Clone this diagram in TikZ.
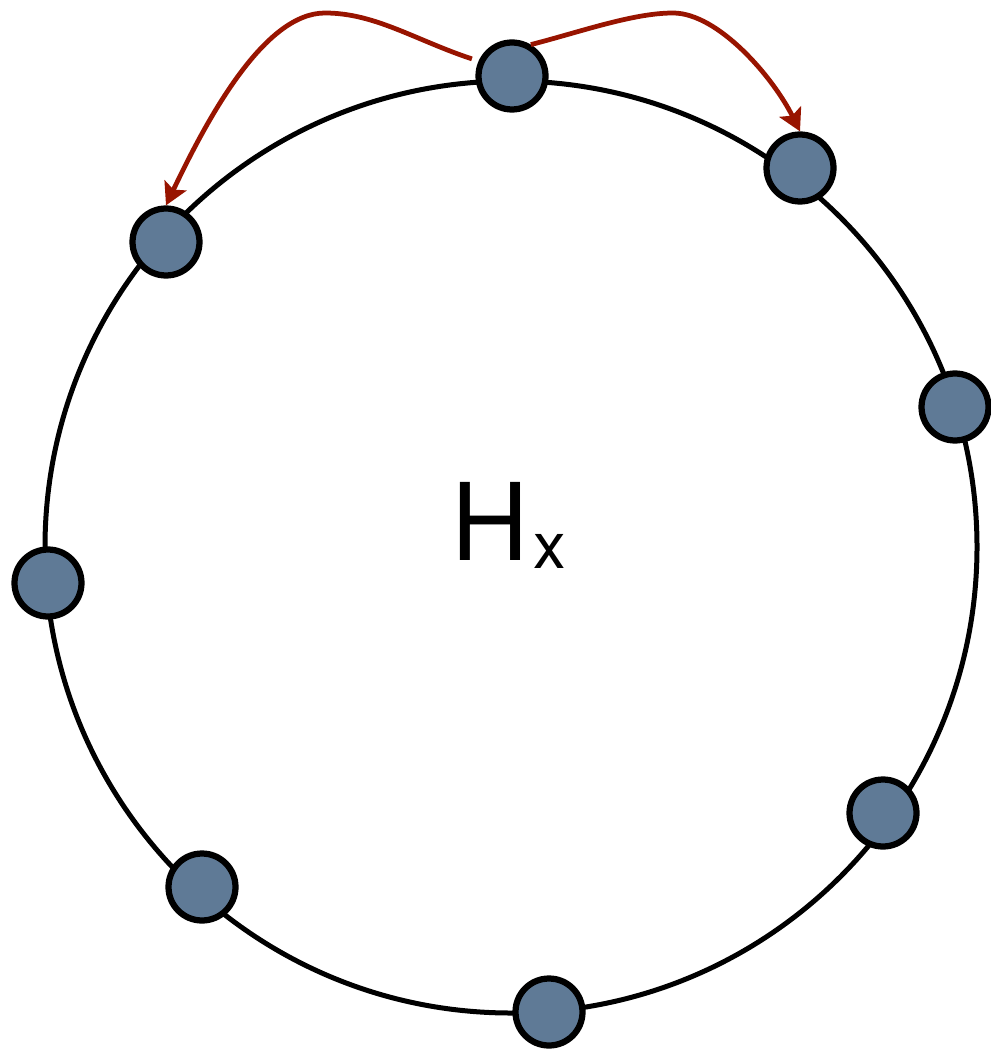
\documentclass[tikz,border=0pt]{standalone}
\usepackage{fontspec}
\usepackage{tikz}
\usetikzlibrary{arrows.meta, positioning}
\newfontfamily\hxfont{TeX Gyre Heros}
\definecolor{myBlue}{RGB}{95,122,150}
\definecolor{myRed}{RGB}{152,20,0}

\begin{document}
\begin{tikzpicture}[x=0.02cm, y=-0.02cm,
  site/.style={circle, draw=black, line width=0.125cm, fill=myBlue,
               minimum size=1.34cm, inner sep=0pt},
  hop/.style={draw=myRed, line width=0.095cm,
              -{Stealth[length=0.44cm, width=0.48cm, inset=0.09cm]}},
]
  \useasboundingbox (0,0) rectangle (990,1050);
  % the ring
  \draw[line width=0.1cm] (511,547) circle [radius=466];
  % sites on the ring
  \node[site] (top) at (512,76) {};
  \node[site] (ne) at (800,168) {};
  \node[site] (nw) at (166,242) {};
  \node[site] (east) at (955,407) {};
  \node[site] (west) at (48,583) {};
  \node[site] (se) at (883,813) {};
  \node[site] (sw) at (202,887) {};
  \node[site] (south) at (549,1012) {};
  % label
  \node[font=\hxfont\fontsize{61}{61}\selectfont, anchor=base west,
        inner sep=0pt] (hx) at (451,560)
    {H\kern0.1cm\raisebox{-0.16cm}{\fontsize{37}{37}\selectfont x}};
  % moves
  \coordinate (lpeak) at (325,13);
  \coordinate (rpeak) at (673,13);
  \draw[hop, shorten <=0.14cm] (top.156) .. controls (415,40) and (375,13) .. (lpeak)
    .. controls (265,13) and (209,115) .. (nw.90);
  \draw[hop] (top.59) .. controls (580,32) and (633,13) .. (rpeak)
    .. controls (718,13) and (773,77) .. (ne.90);
\end{tikzpicture}
\end{document}
